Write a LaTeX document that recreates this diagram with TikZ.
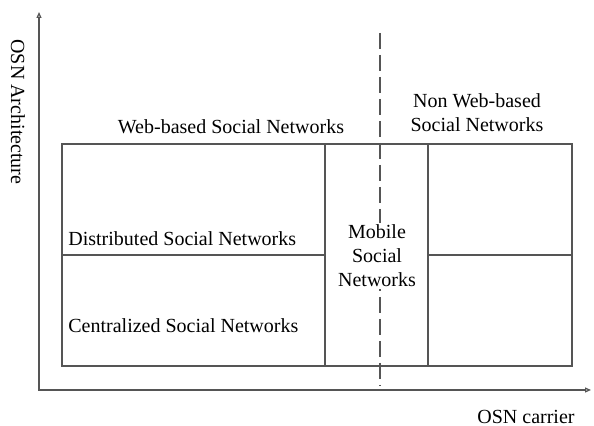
\documentclass[tikz,border=0pt]{standalone}
\usepackage{fontspec}
\setmainfont{Liberation Serif}
\usetikzlibrary{positioning, arrows.meta}
\definecolor{lineGray}{RGB}{85, 85, 85}

\begin{document}
\begin{tikzpicture}[
    x=0.5pt, y=-0.5pt,
    font=\fontsize{10}{12}\selectfont,
    frame/.style={draw=lineGray, line width=0.6pt},
    axis/.style={draw=lineGray, line width=0.6pt, {Triangle[open, length=3pt, width=2.5pt]}-{Triangle[open, length=3pt, width=2.5pt]}},
    split/.style={draw=lineGray, line width=0.6pt, dash pattern=on 8pt off 3pt},
    lbl/.style={inner sep=0pt, align=center}
]
\useasboundingbox (0,0) rectangle (594,426);

\coordinate (ytop) at (39,12);
\coordinate (xend) at (591,390);
\draw[axis] (ytop) |- (xend);

% boxes
\draw[frame] (62,144) rectangle (572,366);
\draw[frame] (325,144) -- (325,366);
\draw[frame] (428,144) -- (428,366);
\draw[frame] (62,255) -- (325,255);
\draw[frame] (428,255) -- (572,255);

\coordinate (dtop) at (380,33);
\coordinate (dbot) at (380,386);
\draw[split] (dtop) -- (dbot);

\node[lbl, rotate=-90] (yname) at (18,112) {OSN Architecture};
\node[lbl] (xname) at (526,417) {OSN carrier};
\node[lbl] (web) at (231,127) {Web-based Social Networks};
\node[lbl] (nonweb) at (477,113) {Non Web-based\\Social Networks};
\node[lbl, anchor=west] (dist) at (68,239) {Distributed Social Networks};
\node[lbl, anchor=west] (cent) at (68,326) {Centralized Social Networks};
\node[lbl, fill=white, inner sep=1pt] (mobile) at (377,256) {Mobile\\Social\\Networks};
\end{tikzpicture}
\end{document}
